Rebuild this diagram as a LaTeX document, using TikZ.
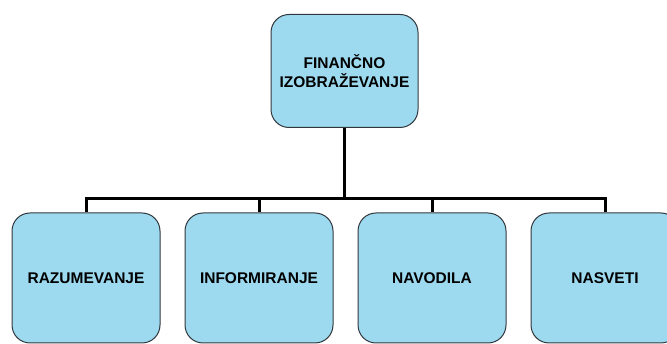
\documentclass[tikz,border=0pt]{standalone}
\usepackage{fontspec}
\setmainfont{Liberation Sans}
\usepackage{tikz}
\usetikzlibrary{positioning}
\definecolor{boxblue}{RGB}{157,218,240}
\definecolor{boxedge}{RGB}{50,55,60}
\tikzset{
    topic box/.style={
        draw=boxedge,
        fill=boxblue,
        line width=1pt,
        rounded corners=18pt,
        align=center,
        inner sep=0pt,
        font=\fontsize{15.5}{19.5}\selectfont\bfseries
    },
    parent box/.style={
        topic box,
        minimum width=147pt,
        minimum height=113pt
    },
    child box/.style={
        topic box,
        minimum width=148pt,
        minimum height=130pt
    },
    link/.style={
        draw=black,
        line width=3pt
    }
}
\begin{document}
\begin{tikzpicture}[x=1pt,y=-1pt,node distance=24pt]
    \useasboundingbox (0,0) rectangle (667,344);
    \node[parent box] (fin) at (344.5,71) {FINANČNO\\IZOBRAŽEVANJE};
    \node[child box] (raz) at (86,278) {RAZUMEVANJE};
    \node[child box,right=of raz] (inf) {INFORMIRANJE};
    \node[child box,right=of inf] (nav) {NAVODILA};
    \node[child box,right=of nav] (nas) {NASVETI};
    \coordinate (bus) at (fin.south |- 0,199);
    \draw[link] (fin.south) -- (bus);
    \foreach \c in {raz,inf,nav,nas}
        \draw[link] (bus) -| (\c.north);
\end{tikzpicture}
\end{document}
